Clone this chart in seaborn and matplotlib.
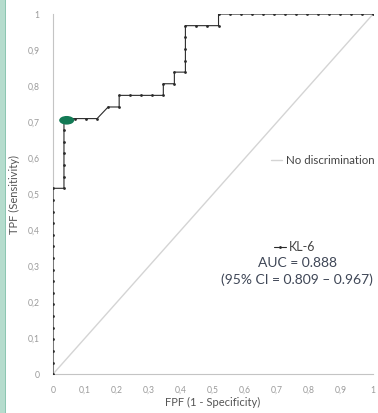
import pandas as pd
import matplotlib.pyplot as plt
import seaborn as sns
from matplotlib.lines import Line2D
from matplotlib.patches import Ellipse, Rectangle

# ROC points for KL-6 (counts of false / true positives), 29 negatives, 31 positives
n_neg = 29
n_pos = 31
fp_count = [0, 0, 0, 0, 0, 0, 0, 0, 0, 0, 0, 0, 0, 0, 0, 0, 0,
            1, 1, 1, 1, 1, 1, 1,
            2, 3, 4, 5, 6, 6, 7, 8, 9, 10, 10, 11, 11, 12, 12, 12, 12, 12, 13, 14, 15, 15,
            16, 17, 18, 19, 20, 21, 22, 23, 24, 25, 26, 27, 28, 29]
tp_count = [0, 1, 2, 3, 4, 5, 6, 7, 8, 9, 10, 11, 12, 13, 14, 15, 16,
            16, 17, 18, 19, 20, 21, 22,
            22, 22, 22, 23, 23, 24, 24, 24, 24, 24, 25, 25, 26, 26, 27, 28, 29, 30, 30, 30, 30, 31,
            31, 31, 31, 31, 31, 31, 31, 31, 31, 31, 31, 31, 31, 31]

# optimal cut-off point (green marker)
cutoff_fpf = 0.043
cutoff_tpf = 0.705

diag_x = [0, 1]
diag_y = [0, 1]

tick_values = [0, 0.1, 0.2, 0.3, 0.4, 0.5, 0.6, 0.7, 0.8, 0.9, 1]
tick_labels = ['0', '0,1', '0,2', '0,3', '0,4', '0,5', '0,6', '0,7', '0,8', '0,9', '1']

roc = pd.DataFrame({'fpf': [f / n_neg for f in fp_count],
                    'tpf': [t / n_pos for t in tp_count]})

sns.set_style('white')
plt.rcParams['font.family'] = ['Lato', 'DejaVu Sans']

fig = plt.figure(figsize=(3.78, 4.13), dpi=100)
ax = fig.add_axes([0.140, 0.094, 0.847, 0.872])

# teal strip on the left edge
fig.patches.append(Rectangle((0, 0), 0.012, 1, transform=fig.transFigure,
                             facecolor='#b5dccd', edgecolor='none'))
fig.patches.append(Rectangle((0.012, 0), 0.003, 1, transform=fig.transFigure,
                             facecolor='#8cc6b2', edgecolor='none'))

sns.lineplot(x=diag_x, y=diag_y, ax=ax, color='#d4d4d4', linewidth=1.0)
sns.lineplot(data=roc, x='fpf', y='tpf', ax=ax, sort=False, estimator=None,
             color='#2a2a2a', linewidth=0.8, marker='o', markersize=2.0,
             markeredgewidth=0, zorder=3)

ax.add_patch(Ellipse((cutoff_fpf, cutoff_tpf), 0.047, 0.024,
                     facecolor='#137a55', edgecolor='none', zorder=4))

ax.set_xlim(0, 1)
ax.set_ylim(0, 1)
ax.set_xticks(tick_values)
ax.set_xticklabels(tick_labels)
ax.set_yticks(tick_values)
ax.set_yticklabels(tick_labels)
ax.tick_params(axis='both', labelsize=6.2, colors='#9a9a9a', length=2.5,
               width=0.6, direction='out', pad=6)
ax.tick_params(axis='y', pad=7)
for side in ['top', 'right']:
    ax.spines[side].set_visible(False)
for side in ['left', 'bottom']:
    ax.spines[side].set_color('#c4c4c4')
    ax.spines[side].set_linewidth(0.8)

ax.set_xlabel('FPF (1 - Specificity)', fontsize=8, color='#555555')
ax.set_ylabel('TPF (Sensitivity)', fontsize=8, color='#555555')
ax.xaxis.set_label_coords(0.5, -0.064)
ax.yaxis.set_label_coords(-0.103, 0.5)

# legends
leg1 = ax.legend(handles=[Line2D([], [], color='#d4d4d4', linewidth=1.0)],
                 labels=['No discrimination'], loc='center left',
                 bbox_to_anchor=(0.68, 0.594), frameon=False, fontsize=8.3,
                 handlelength=1.0, handletextpad=0.3, borderpad=0, borderaxespad=0,
                 labelcolor='#444444')
ax.add_artist(leg1)
ax.legend(handles=[Line2D([], [], color='#2a2a2a', linewidth=0.8, marker='o',
                          markersize=2.0, markeredgewidth=0)],
          labels=['KL-6'], loc='center left', bbox_to_anchor=(0.69, 0.353),
          frameon=False, fontsize=9, handlelength=1.0, handletextpad=0.2,
          borderpad=0, borderaxespad=0, labelcolor='#444444')

ax.text(0.7625, 0.308, 'AUC = 0.888', transform=ax.transAxes, ha='center',
        va='center', fontsize=10, color='#3e4656')
ax.text(0.761, 0.261, '(95% CI = 0.809 \u2013 0.967)', transform=ax.transAxes,
        ha='center', va='center', fontsize=10, color='#3e4656')

plt.savefig('out.png', dpi=100)
plt.close()
